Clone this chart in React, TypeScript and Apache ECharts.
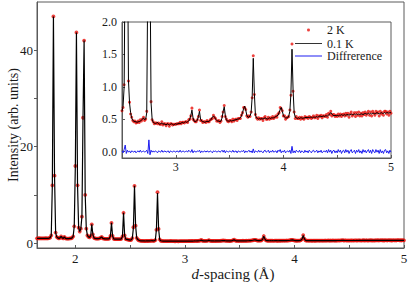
import React, { useEffect, useRef } from "react";
import * as echarts from "echarts";

// d-spacing grid of the measured patterns (Å)
const dStart = 1.65;
const dStep = 0.01;

// 0.1 K pattern, one value per d step from 1.65 to 5.00 Å
const intensity01K = [
  1.0, 1.0, 1.02, 0.98, 1.0,
  1.0, 0.98, 1.0, 1.02, 1.0, 1.0, 1.05, 1.15, 1.6, 12,
  47, 14, 2.2, 1.3, 1.1, 1.0, 1.1, 1.4, 1.1, 1.0,
  1.3, 1.0, 0.95, 0.95, 0.95, 1.0, 1.0, 1.1, 1.4, 3.5,
  16, 43.7, 12, 3.2, 2.4, 3.0, 5.5, 26, 42, 10,
  3.0, 1.6, 1.3, 1.2, 1.5, 3.9, 1.8, 1.1, 1.0, 0.95,
  0.95, 0.95, 1.0, 1.1, 1.3, 1.0, 0.95, 0.9, 0.9, 0.9,
  0.9, 0.95, 1.5, 4.2, 1.5, 0.9, 0.85, 0.85, 0.85, 0.85,
  0.85, 0.85, 0.9, 1.4, 6.3, 1.6, 0.85, 0.8, 0.75, 0.7,
  0.62, 0.7, 1.0, 3.2, 11.9, 3.6, 1.1, 0.75, 0.6, 0.52,
  0.48, 0.47, 0.46, 0.46, 0.45, 0.46, 0.46, 0.47, 0.48, 0.5,
  0.52, 0.49, 0.5, 0.6, 2.8, 10.4, 3.0, 0.75, 0.5, 0.45,
  0.44, 0.43, 0.44, 0.45, 0.43, 0.42, 0.43, 0.44, 0.42, 0.43,
  0.42, 0.41, 0.43, 0.42, 0.41, 0.42, 0.43, 0.42, 0.41, 0.42,
  0.43, 0.42, 0.43, 0.44, 0.43, 0.44, 0.45, 0.44, 0.45, 0.46,
  0.45, 0.46, 0.47, 0.5, 0.56, 0.64, 0.52, 0.47, 0.46, 0.47,
  0.48, 0.54, 0.62, 0.5, 0.47, 0.46, 0.46, 0.45, 0.46, 0.47,
  0.46, 0.47, 0.48, 0.5, 0.53, 0.55, 0.53, 0.5, 0.48, 0.47,
  0.47, 0.46, 0.47, 0.52, 0.62, 0.69, 0.56, 0.49, 0.47, 0.47,
  0.47, 0.48, 0.47, 0.48, 0.48, 0.49, 0.49, 0.5, 0.5, 0.51,
  0.52, 0.55, 0.6, 0.66, 0.7, 0.64, 0.56, 0.53, 0.53, 0.55,
  0.6, 0.85, 1.44, 0.9, 0.56, 0.52, 0.51, 0.5, 0.51, 0.5,
  0.51, 0.5, 0.51, 0.52, 0.51, 0.5, 0.51, 0.52, 0.51, 0.52,
  0.52, 0.52, 0.53, 0.54, 0.55, 0.56, 0.6, 0.65, 0.68, 0.62,
  0.56, 0.53, 0.52, 0.52, 0.52, 0.55, 0.62, 0.9, 1.58, 0.95,
  0.6, 0.53, 0.52, 0.51, 0.52, 0.51, 0.52, 0.52, 0.51, 0.52,
  0.52, 0.53, 0.52, 0.53, 0.52, 0.53, 0.53, 0.52, 0.53, 0.53,
  0.53, 0.54, 0.53, 0.54, 0.55, 0.54, 0.54, 0.55, 0.54, 0.55,
  0.55, 0.55, 0.56, 0.58, 0.6, 0.58, 0.56, 0.55, 0.56, 0.55,
  0.56, 0.55, 0.56, 0.56, 0.57, 0.56, 0.56, 0.57, 0.56, 0.57,
  0.57, 0.56, 0.57, 0.58, 0.57, 0.57, 0.58, 0.57, 0.58, 0.57,
  0.58, 0.57, 0.58, 0.58, 0.57, 0.58, 0.59, 0.58, 0.58, 0.59,
  0.58, 0.59, 0.58, 0.59, 0.59, 0.58, 0.59, 0.6, 0.59, 0.58,
  0.59, 0.6, 0.59, 0.59, 0.6, 0.59, 0.6, 0.6, 0.59, 0.6,
  0.6,
];

// Difference (2 K − 0.1 K) in the inset window, 2.50 to 5.00 Å
const insetStart = 2.5;
const insetEnd = 5;
const difference = [
  0.01, -0.02, 0.03, 0.1, -0.03, 0.02, -0.01, 0.01, -0.02, 0.01,
  0.0, -0.01, 0.01, -0.02, 0.0, 0.01, -0.01, 0.02, -0.01, 0.0,
  0.01, -0.01, 0.0, 0.02, -0.03, 0.18, -0.05, 0.02, -0.01, 0.01,
  -0.01, 0.01, 0.0, -0.02, 0.01, 0.0, -0.01, 0.02, -0.01, 0.0,
  0.01, -0.01, 0.0, 0.01, -0.02, 0.01, 0.0, -0.01, 0.01, 0.0,
  -0.01, 0.01, 0.0, -0.01, 0.02, -0.01, 0.0, 0.01, -0.01, 0.0,
  0.01, -0.01, 0.02, 0.0, -0.01, 0.03, -0.02, 0.01, 0.0, -0.01,
  0.01, 0.0, 0.02, -0.02, 0.01, -0.01, 0.0, 0.01, -0.01, 0.01,
  0.0, -0.01, 0.01, 0.0, -0.02, 0.01, 0.0, 0.01, -0.01, 0.0,
  0.01, -0.01, 0.0, 0.02, -0.01, 0.02, -0.02, 0.01, 0.0, -0.01,
  0.01, 0.0, -0.01, 0.02, -0.01, 0.0, 0.01, -0.02, 0.01, 0.0,
  -0.01, 0.01, 0.0, 0.02, -0.02, 0.01, -0.01, 0.0, 0.02, -0.01,
  0.01, -0.02, 0.04, -0.02, 0.01, 0.0, -0.01, 0.02, -0.01, 0.01,
  0.0, -0.02, 0.01, 0.02, -0.01, 0.0, 0.02, -0.02, 0.01, -0.01,
  0.02, -0.01, 0.0, 0.01, -0.02, 0.02, 0.0, 0.03, -0.02, 0.01,
  -0.01, 0.02, -0.02, 0.0, 0.01, -0.01, 0.02, -0.03, 0.08, -0.02,
  0.01, -0.02, 0.02, 0.0, -0.01, 0.02, -0.02, 0.01, 0.0, -0.02,
  0.02, -0.01, 0.01, -0.02, 0.02, 0.0, -0.02, 0.01, 0.02, -0.01,
  0.0, 0.02, -0.02, 0.01, -0.01, 0.02, -0.02, 0.0, 0.01, -0.01,
  0.02, -0.02, 0.03, -0.01, 0.02, -0.03, 0.01, 0.02, -0.02, 0.01,
  -0.02, 0.03, -0.01, 0.02, -0.03, 0.01, 0.02, -0.02, 0.03, -0.01,
  0.02, -0.03, 0.01, 0.03, -0.02, 0.0, 0.02, -0.03, 0.02, -0.01,
  0.03, -0.02, 0.01, -0.03, 0.03, -0.01, 0.02, -0.02, 0.01, 0.03,
  -0.02, 0.02, -0.03, 0.03, 0.0, -0.02, 0.03, -0.01, 0.02, -0.03,
  0.03, -0.02, 0.01, -0.03, 0.02, 0.03, -0.02, 0.01, -0.03, 0.02,
  -0.01,
];

// Axis ticks and labels
const mainXMin = 1.65;
const mainXMax = 5;
const mainYMin = -1;
const mainYMax = 50;
const mainXTicks = [2, 2.5, 3, 3.5, 4, 4.5, 5];
const mainXLabels = [2, 3, 4, 5];
const mainYTicks = [0, 10, 20, 30, 40];
const mainYLabels = [0, 20, 40];
const insetYMin = -0.1;
const insetYMax = 2.0;
const insetXTicks = [3, 3.5, 4, 4.5, 5];
const insetXLabels = [3, 4, 5];
const insetYTicks = [0, 0.5, 1, 1.5, 2];
const insetYLabels = [0, 0.5, 1, 1.5, 2];

const seriesNames = ["2 K", "0.1 K", "Diffrerence"];

const FONT = "Liberation Serif, Times New Roman, serif";
const AXIS_COLOR = "#5a5a5a";
const RED = "#e8120c";
const BLUE = "#1c1cf0";

// legend glyphs: a small dot, and a thin line, inside a 27x14 box
const DOT_ICON =
  "path://M0,0 L0.01,0 L0.01,0.01 Z M27,14 L27.01,14 L27.01,14.01 Z M12,7 A1.5,1.5 0 1 1 15,7 A1.5,1.5 0 1 1 12,7 Z";
const LINE_ICON = "path://M0,6.5 L27,6.5 L27,7.5 L0,7.5 Z";

export default function App() {
  const ref = useRef<HTMLDivElement>(null);

  useEffect(() => {
    if (!ref.current) return;
    const chart = echarts.init(ref.current, undefined, { renderer: "svg" });

    const dOf = (i: number) => Math.round((dStart + i * dStep) * 100) / 100;
    const offset = Math.round((insetStart - dStart) / dStep);
    const calcPts = intensity01K.map((v, i) => [dOf(i), v]);
    const obsPts = intensity01K.map((v, i) => {
      const k = i - offset;
      const dv = k >= 0 && k < difference.length ? difference[k] : 0;
      return [dOf(i), Math.round((v + dv) * 1000) / 1000];
    });
    const diffPts = difference.map((v, k) => [dOf(k + offset), v]);
    const inInset = (p: number[]) => p[0] >= insetStart - 1e-9 && p[0] <= insetEnd + 1e-9;
    const insetObs = obsPts.filter(inInset);
    const insetCalc = calcPts.filter(inInset);

    const labelStyle = { fontFamily: FONT, color: "#1a1a1a" };

    const option: any = {
      animation: false,
      textStyle: { fontFamily: FONT },
      grid: [
        {
          left: 37,
          top: 2,
          width: 367,
          height: 246,
          show: true,
          outerBoundsMode: "none",
          containLabel: false,
          borderColor: AXIS_COLOR,
          borderWidth: 1,
          backgroundColor: "transparent",
        },
        {
          left: 122,
          top: 22,
          width: 269,
          height: 136,
          show: true,
          outerBoundsMode: "none",
          containLabel: false,
          z: 5,
          borderColor: AXIS_COLOR,
          borderWidth: 1,
          backgroundColor: "#ffffff",
        },
      ],
      xAxis: [
        {
          type: "value",
          gridIndex: 0,
          min: mainXMin,
          max: mainXMax,
          axisLine: { show: true, onZero: false, lineStyle: { color: AXIS_COLOR } },
          axisTick: { show: true, inside: true, length: 3, customValues: mainXTicks, lineStyle: { color: AXIS_COLOR } },
          axisLabel: { customValues: mainXLabels, margin: 4, fontSize: 13, ...labelStyle },
          splitLine: { show: false },
          name: "{i|d}-spacing (Å)",
          nameLocation: "middle",
          nameGap: 18,
          nameMoveOverlap: false,
          nameTextStyle: {
            fontSize: 15,
            fontFamily: FONT,
            color: "#1a1a1a",
            padding: [0, 0, 0, 25],
            rich: { i: { fontStyle: "italic", fontSize: 15, fontFamily: FONT, color: "#1a1a1a" } },
          },
        },
        {
          type: "value",
          gridIndex: 1,
          min: insetStart,
          max: insetEnd,
          z: 6,
          axisLine: { show: true, onZero: false, lineStyle: { color: AXIS_COLOR } },
          axisTick: { show: true, inside: true, length: 3, customValues: insetXTicks, lineStyle: { color: AXIS_COLOR } },
          axisLabel: { customValues: insetXLabels, margin: 3, fontSize: 12, ...labelStyle },
          splitLine: { show: false },
        },
      ],
      yAxis: [
        {
          type: "value",
          gridIndex: 0,
          min: mainYMin,
          max: mainYMax,
          axisLine: { show: true, onZero: false, lineStyle: { color: AXIS_COLOR } },
          axisTick: { show: true, inside: false, length: 3, customValues: mainYTicks, lineStyle: { color: AXIS_COLOR } },
          axisLabel: { customValues: mainYLabels, margin: 4, fontSize: 13, ...labelStyle },
          splitLine: { show: false },
          name: "Intensity (arb. units)",
          nameLocation: "middle",
          nameGap: 17,
          nameMoveOverlap: false,
          nameTextStyle: { fontSize: 14, fontFamily: FONT, color: "#1a1a1a" },
        },
        {
          type: "value",
          gridIndex: 1,
          min: insetYMin,
          max: insetYMax,
          z: 6,
          axisLine: { show: true, onZero: false, lineStyle: { color: AXIS_COLOR } },
          axisTick: { show: true, inside: true, length: 3, customValues: insetYTicks, lineStyle: { color: AXIS_COLOR } },
          axisLabel: {
            customValues: insetYLabels,
            margin: 5,
            fontSize: 12,
            ...labelStyle,
            formatter: (v: number) => v.toFixed(1),
          },
          splitLine: { show: false },
        },
      ],
      legend: {
        orient: "vertical",
        left: 295,
        top: 23,
        padding: 0,
        itemWidth: 27,
        itemHeight: 14,
        itemGap: 0.5,
        selectedMode: false,
        z: 20,
        textStyle: { fontSize: 12, fontFamily: FONT, color: "#1a1a1a" },
        data: [
          { name: seriesNames[0], icon: DOT_ICON, itemStyle: { color: RED } },
          { name: seriesNames[1], icon: LINE_ICON, itemStyle: { color: "#333" } },
          { name: seriesNames[2], icon: LINE_ICON, itemStyle: { color: BLUE } },
        ],
      },
      series: [
        {
          name: seriesNames[0],
          type: "scatter",
          xAxisIndex: 0,
          yAxisIndex: 0,
          data: obsPts,
          symbol: "circle",
          symbolSize: 3.8,
          itemStyle: { color: RED },
          z: 2,
          silent: true,
        },
        {
          name: seriesNames[1],
          type: "line",
          xAxisIndex: 0,
          yAxisIndex: 0,
          data: calcPts,
          symbol: "none",
          lineStyle: { color: "#000", width: 1.2 },
          itemStyle: { color: "#000" },
          z: 3,
          silent: true,
        },
        {
          name: seriesNames[0],
          type: "scatter",
          xAxisIndex: 1,
          yAxisIndex: 1,
          data: insetObs,
          symbol: "circle",
          symbolSize: 3,
          itemStyle: { color: RED },
          clip: true,
          z: 7,
          silent: true,
        },
        {
          name: seriesNames[1],
          type: "line",
          xAxisIndex: 1,
          yAxisIndex: 1,
          data: insetCalc,
          symbol: "none",
          lineStyle: { color: "#000", width: 1 },
          itemStyle: { color: "#000" },
          clip: true,
          z: 8,
          silent: true,
        },
        {
          name: seriesNames[2],
          type: "line",
          xAxisIndex: 1,
          yAxisIndex: 1,
          data: diffPts,
          symbol: "none",
          lineStyle: { color: BLUE, width: 1 },
          itemStyle: { color: BLUE },
          clip: true,
          z: 8,
          silent: true,
        },
      ],
    };

    chart.setOption(option);
    return () => chart.dispose();
  }, []);

  return (
    <div
      ref={ref}
      style={{ position: "fixed", left: 0, top: 0, width: 409, height: 287, background: "#fff" }}
    />
  );
}
